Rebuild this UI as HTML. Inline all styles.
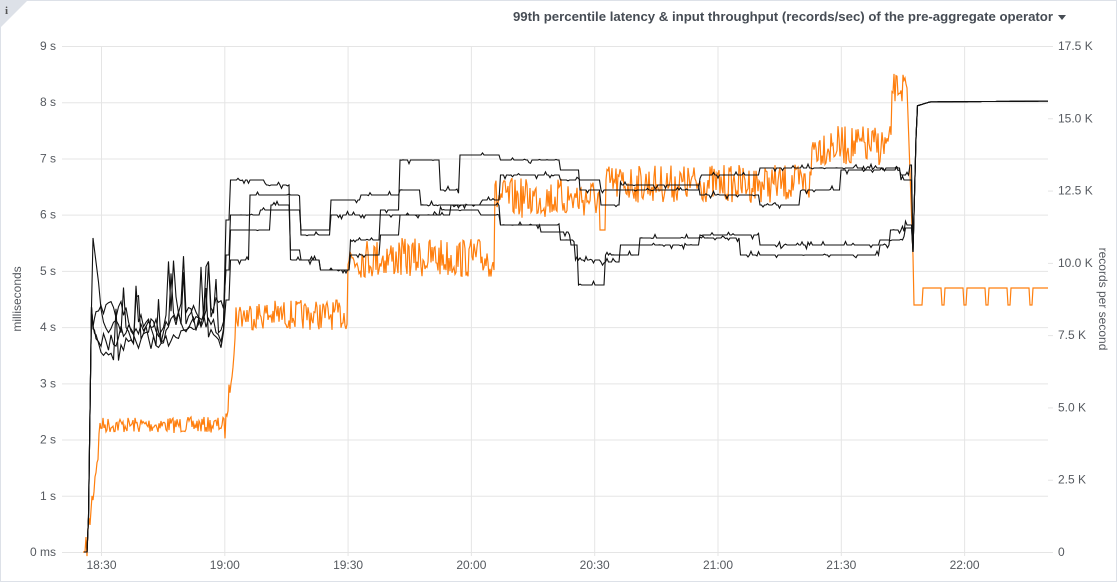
<!DOCTYPE html>
<html><head><meta charset="utf-8"><style>
html,body{margin:0;padding:0;background:#fff;width:1117px;height:582px;overflow:hidden;font-family:"Liberation Sans",sans-serif}
</style></head><body>
<svg id="s" width="1117" height="582" xmlns="http://www.w3.org/2000/svg" font-family="Liberation Sans, sans-serif">
<rect x="0.5" y="0.5" width="1116" height="581" fill="#fff" stroke="#dde1e8"/>
<polygon points="0,0 28,0 0,28" fill="#dde1e8"/>
<text x="5" y="14" font-size="11" font-weight="bold" fill="#555" font-family="Liberation Serif,serif">i</text>
<text x="1053" y="21" font-size="13.2" font-weight="bold" fill="#464c54" text-anchor="end">99th percentile latency &amp; input throughput (records/sec) of the pre-aggregate operator</text>
<polygon points="1058,15 1066,15 1062,20" fill="#464c54"/>
<g id="grid" stroke="#e5e5e5" stroke-width="1"></g>
<g id="lab" font-size="12" fill="#55595f"></g>
<text transform="translate(21,299) rotate(-90)" font-size="12" fill="#55595f" text-anchor="middle">milliseconds</text>
<text transform="translate(1099,299) rotate(90)" font-size="12" fill="#55595f" text-anchor="middle">records per second</text>
<g id="lines" fill="none"></g>
</svg>
<script>
var NS="http://www.w3.org/2000/svg",s=document.getElementById('s');
function el(p,t,a,txt){var e=document.createElementNS(NS,t);for(var k in a)e.setAttribute(k,a[k]);if(txt)e.textContent=txt;document.getElementById(p).appendChild(e);return e;}
var L=62,R=1048,T=46,B=552;
var ll=["0 ms","1 s","2 s","3 s","4 s","5 s","6 s","7 s","8 s","9 s"];
for(var i=0;i<10;i++){var y=B-i*(B-T)/9;el('grid','line',{x1:L,x2:R,y1:y+.5,y2:y+.5});el('lab','text',{x:56,y:y+4,'text-anchor':'end'},ll[i]);}
var rl=["0","2.5 K","5.0 K","7.5 K","10.0 K","12.5 K","15.0 K","17.5 K"];
for(var i=0;i<8;i++){var y=B-i*(B-T)/7;el('grid','line',{x1:R,x2:R+5,y1:y+.5,y2:y+.5});el('lab','text',{x:1058,y:y+4},rl[i]);}
var xl=["18:30","19:00","19:30","20:00","20:30","21:00","21:30","22:00"];
for(var i=0;i<8;i++){var x=101.5+i*123.3;el('grid','line',{x1:x,x2:x,y1:T,y2:B+4});el('lab','text',{x:x,y:569,'text-anchor':'middle'},xl[i]);}
var seed=7;function rnd(){seed=(seed*16807)%2147483647;return seed/2147483647;}
function step(pts,x){var v=pts[0][1];for(var i=0;i<pts.length;i++){if(pts[i][0]<=x)v=pts[i][1];}return v;}
var od=[];
for(var x=83;x<=1048;x+=1){var y;
if(x<86)y=552;else if(x<100)y=552-(x-86)*8.5+(rnd()-.5)*30;
else if(x<225)y=425+(rnd()-.5)*16;
else if(x<236)y=430-(x-225)*9+(rnd()-.5)*20;
else if(x<348)y=315+(rnd()-.5)*30;
else if(x<495)y=250+(rnd()-.3)*40;
else if(x<600)y=198+(rnd()-.5)*40;
else if(x<606)y=230;
else if(x<812)y=178+(rnd()-.35)*38;
else if(x<892)y=138+(rnd()-.3)*40;
else if(x<907)y=88+(rnd()-.5)*30;
else if(x<914)y=88+(x-907)*28;
else {y=288;if((x-920)%22<3)y=305;}
od.push(x+','+y.toFixed(1));}
el('lines','polyline',{points:od.join(' '),stroke:'#ff7f0e','stroke-width':1.2});
var series=[
[[92,275],[235,180],[265,185],[290,260],[320,270],[350,240],[380,210],[400,160],[420,160],[440,190],[460,155],[500,160],[560,170],[580,190],[600,205],[620,185],[700,195],[760,205],[800,190],[840,170],[900,175],[910,165]],
[[92,275],[235,215],[260,210],[300,230],[330,200],[360,195],[400,190],[420,205],[480,200],[500,175],[560,180],[600,190],[700,175],[760,168],[820,168],[900,180]],
[[92,275],[235,230],[270,205],[290,250],[300,260],[320,270],[350,255],[380,235],[400,215],[440,210],[480,215],[500,225],[540,232],[570,245],[578,285],[600,285],[605,255],[640,238],[700,238],[740,255],[800,255],[880,245],[890,230],[905,225]],
[[92,275],[235,260],[250,195],[300,235],[330,215],[400,215],[450,205],[500,225],[560,240],[575,260],[600,262],[620,245],[700,235],[760,245],[880,240],[905,228]]];
for(var k=0;k<4;k++){var d=[];var w=320;
for(var x=84;x<=1048;){var y;
if(x<88)y=552;else if(x<92)y=552-(x-88)*70;
else if(x<225){w+=(rnd()-.5)*30;w+=(325-w)*0.15;y=w;if(rnd()<.06)y-=45;if(k==0&&x<100)y=230+(x-92)*8;}
else if(x<238)y=step(series[k],238)+(x<230?40:0);
else if(x<912)y=step(series[k],x)+(rnd()<.15?(rnd()-.5)*8:0);
else if(x<917)y=290-(x-912)*38;
else y=102+Math.max(0,(930-x)*0.3)-(x-917)*0.007;
d.push(x.toFixed(1)+','+y.toFixed(1));
x+=(x>=95&&x<225)?2.5:1.5;}
el('lines','polyline',{points:d.join(' '),stroke:'#111','stroke-width':1.1});}
</script>
</body></html>
